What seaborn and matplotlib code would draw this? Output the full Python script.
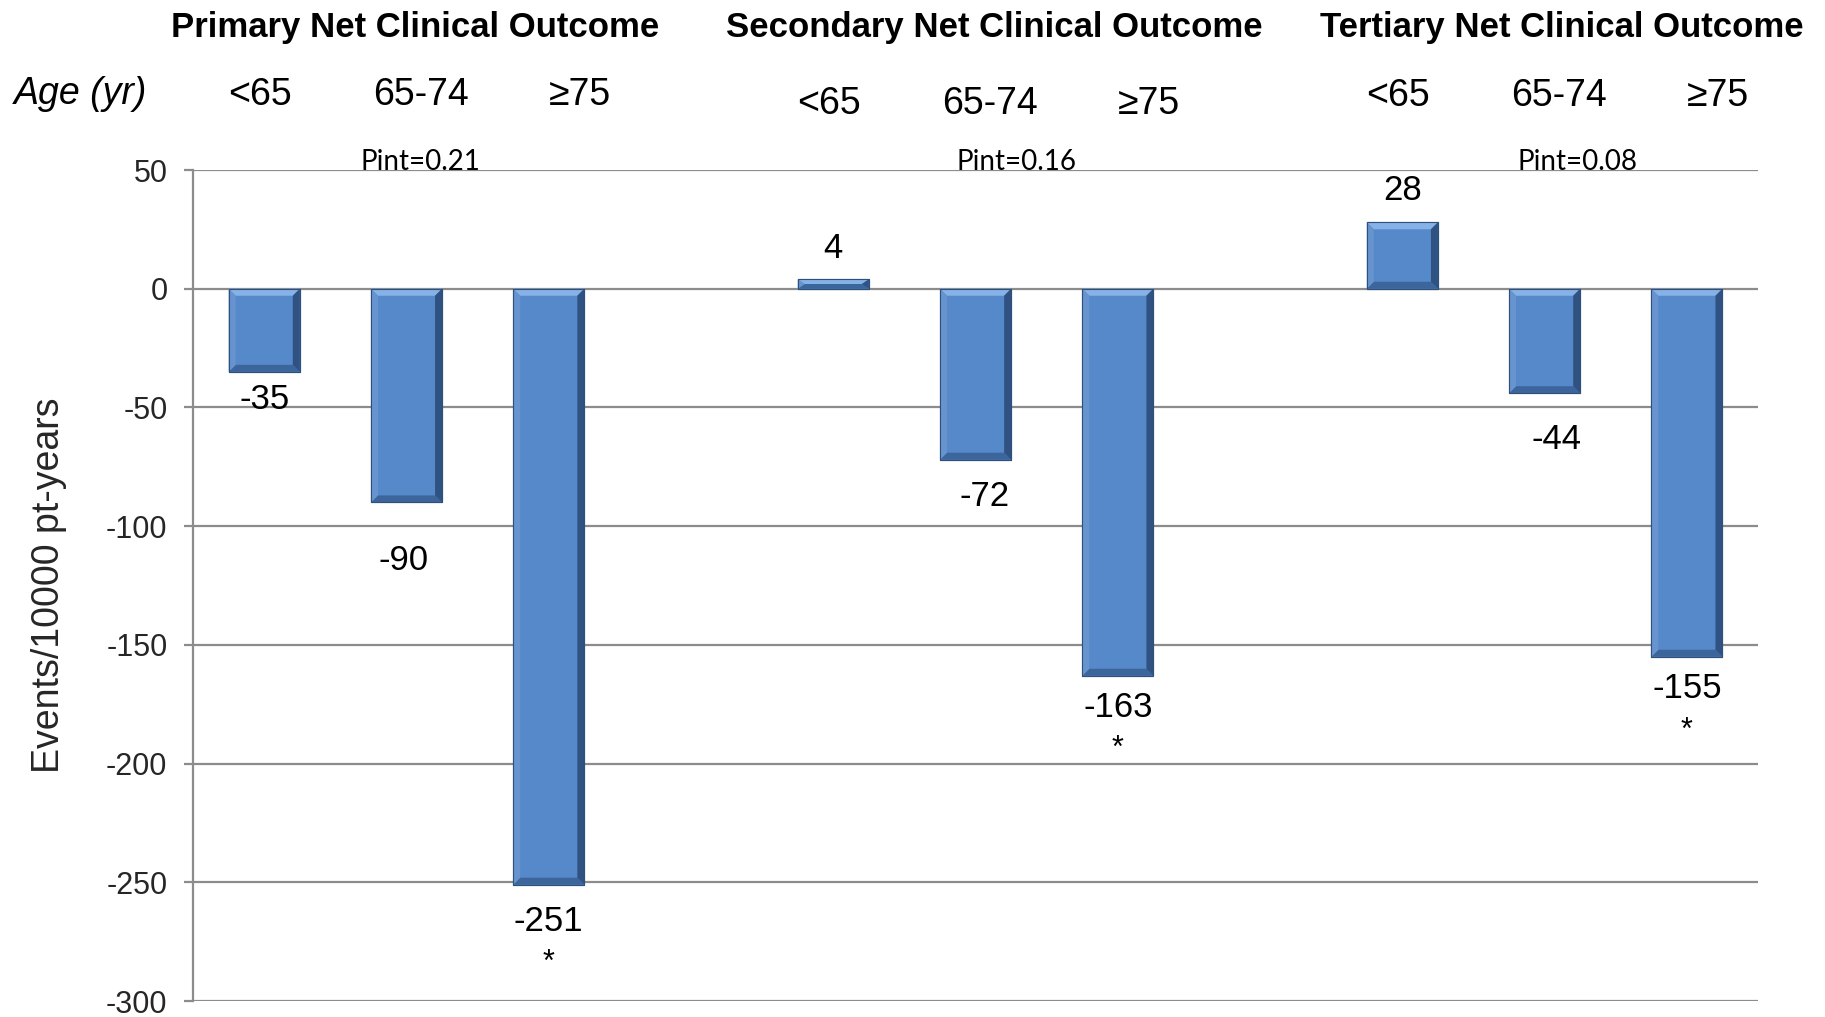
import pandas as pd
import matplotlib.pyplot as plt
import matplotlib.transforms as mtransforms
from matplotlib.patches import Polygon
import seaborn as sns


outcomes = ['Primary Net Clinical Outcome', 'Secondary Net Clinical Outcome', 'Tertiary Net Clinical Outcome']
age_groups = ['<65', '65-74', '\u226575']
values = [-35, -90, -251, 4, -72, -163, 28, -44, -155]
significant = [False, False, True, False, False, True, False, False, True]
p_interaction = ['Pint=0.21', 'Pint=0.16', 'Pint=0.08']
y_ticks = [50, 0, -50, -100, -150, -200, -250, -300]

# one slot per bar, with an empty slot between outcome groups
slots = []
rows = []
for g, outcome in enumerate(outcomes):
    if g > 0:
        slots.append(f'gap{g}')
    for a, age in enumerate(age_groups):
        key = f'{outcome}|{age}'
        slots.append(key)
        rows.append({'slot': key, 'outcome': outcome, 'age': age, 'value': values[g * 3 + a]})
df = pd.DataFrame(rows)

# manual text placement (as in the original slide)
label_dy = [-11.5, -24.5, -15.3, 13.0, -15.5, -13.3, 13.5, -19.5, -13.4]
label_dx = [0, -0.02, 0, 0, 0.06, 0, 0, 0.08, 0]
age_dx = [-0.03, 0.1, 0.22]
age_y = [0.9065, 0.8977, 0.9056]
header_dx = [0.06, 0.13, 0.12]
pint_dx = [0.1, 0.29, 0.23]

bar_color = '#5589c9'
grid_color = '#8c8c8c'

sns.set_theme(style='white')
plt.rcParams['font.family'] = ['Liberation Sans', 'DejaVu Sans']
plt.rcParams['axes.unicode_minus'] = False

fig = plt.figure(figsize=(18.25, 10.17), dpi=100)
ax = fig.add_axes([0.1058, 0.0157, 0.8575, 0.8171])

sns.barplot(data=df, x='slot', y='value', order=slots, color=bar_color, saturation=1,
            width=0.5, errorbar=None, edgecolor='#2f5079', linewidth=0.8, ax=ax)

ax.set_ylim(-300, 50)
ax.set_yticks(y_ticks)
ax.yaxis.grid(True, color=grid_color, linewidth=1.6)
ax.set_axisbelow(True)
for side in ['top', 'right', 'bottom']:
    ax.spines[side].set_visible(False)
ax.spines['left'].set_color(grid_color)
ax.spines['left'].set_linewidth(1.6)
ax.tick_params(axis='y', direction='out', length=6.5, width=1.6, color=grid_color,
               labelsize=22, pad=12, left=True)
ax.tick_params(axis='x', bottom=False, labelbottom=False)
ax.set_xlabel('')
ax.set_ylabel('Events/10000 pt-years', fontsize=27, va='center')
ax.yaxis.set_label_coords(-0.092, 0.5)

# bevelled look for the bars
fig.canvas.draw()
inv = ax.transData.inverted()
p0 = inv.transform((0, 0))
p1 = inv.transform((7, 7))
bev_x = abs(p1[0] - p0[0])
bev_y = abs(p1[1] - p0[1])
for bar in list(ax.patches):
    x0 = bar.get_x()
    x1 = x0 + bar.get_width()
    ylo = min(bar.get_y(), bar.get_y() + bar.get_height())
    yhi = max(bar.get_y(), bar.get_y() + bar.get_height())
    dx = min(bev_x, (x1 - x0) / 2)
    dy = min(bev_y, (yhi - ylo) / 2)
    ix0, ix1, iy0, iy1 = x0 + dx, x1 - dx, ylo + dy, yhi - dy
    faces = [
        ([(x0, yhi), (x1, yhi), (ix1, iy1), (ix0, iy1)], '#86b2e8'),
        ([(x0, ylo), (x1, ylo), (ix1, iy0), (ix0, iy0)], '#3c659b'),
        ([(x0, ylo), (x0, yhi), (ix0, iy1), (ix0, iy0)], '#6794cf'),
        ([(x1, ylo), (x1, yhi), (ix1, iy1), (ix1, iy0)], '#2f5282'),
    ]
    for pts, c in faces:
        ax.add_patch(Polygon(pts, closed=True, facecolor=c, edgecolor='none', zorder=bar.get_zorder() + 0.1))
    ax.add_patch(plt.Rectangle((x0, ylo), x1 - x0, yhi - ylo, fill=False, edgecolor='#2f5079',
                               linewidth=0.8, zorder=bar.get_zorder() + 0.2))

# value labels and significance stars
for i, row in df.iterrows():
    xpos = slots.index(row['slot'])
    v = row['value']
    ly = v + label_dy[i]
    ax.text(xpos + label_dx[i], ly, str(v), ha='center', va='center', fontsize=25, color='black')
    if significant[i]:
        ax.text(xpos + label_dx[i], ly - 21, '*', ha='center', va='baseline', fontsize=22, color='black')

# group headers, age labels and interaction p-values
blend = mtransforms.blended_transform_factory(ax.transData, fig.transFigure)
for g, outcome in enumerate(outcomes):
    keys = [f'{outcome}|{age}' for age in age_groups]
    mid = slots.index(keys[1])
    fig.text(mid + header_dx[g], 0.9725, outcome, transform=blend, ha='center', va='center',
             fontsize=25, fontweight='bold', color='black')
    for a, key in enumerate(keys):
        fig.text(slots.index(key) + age_dx[a], age_y[g], age_groups[a], transform=blend,
                 ha='center', va='center', fontsize=27, color='black')
    ax.text(mid + pint_dx[g], 50, p_interaction[g], ha='center', va='baseline',
            fontsize=20, family=['Lato', 'DejaVu Sans'], color='black', clip_on=False)

fig.text(0.0077, 0.9075, 'Age (yr)', ha='left', va='center', fontsize=27, style='italic', color='black')

fig.savefig('out.png', dpi=100)
